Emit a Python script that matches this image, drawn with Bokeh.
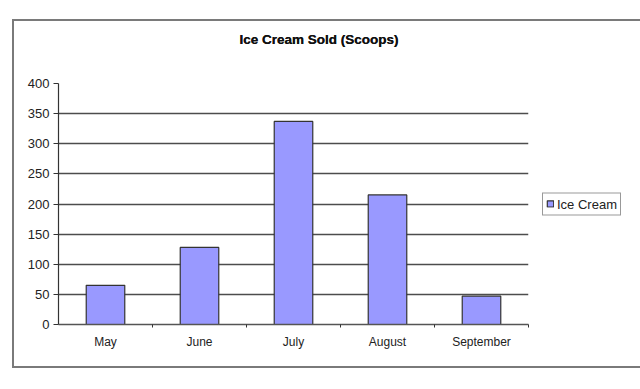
from bokeh.plotting import figure
from bokeh.models import (Range1d, FixedTicker, Legend, LegendItem, ColumnDataSource, Title)
from bokeh.embed import file_html
from bokeh.resources import INLINE

# ---- data ----
months = ["May", "June", "July", "August", "September"]
scoops = [65, 128, 337, 215, 47]
y_ticks = [0, 50, 100, 150, 200, 250, 300, 350, 400]
series_name = "Ice Cream"
title_text = "Ice Cream Sold (Scoops)"

FONT = "Liberation Sans"
centers = [i + 0.5 for i in range(len(months))]
bounds = [i + 1 for i in range(len(months))]

src = ColumnDataSource(dict(x=centers, top=scoops, month=months))

p = figure(frame_width=470, frame_height=241, output_backend="svg", toolbar_location=None,
           x_range=Range1d(0, len(months)), y_range=Range1d(y_ticks[0], y_ticks[-1]),
           min_border_left=44, min_border_right=95, min_border_top=62,
           min_border_bottom=42, margin=(21, 0, 0, 14),
           styles={"outline": "2px solid #7a7a7a"})
p.outline_line_color = None
p.background_fill_color = "white"
p.border_fill_color = "white"

p.title.text = title_text
p.title.align = "left"
p.title.offset = 181
p.title.standoff = 10
p.title.text_font = FONT
p.title.text_font_size = "13.5px"
p.title.text_font_style = "bold"
p.title.text_color = "#111111"

# spacer between title and plot area
spacer = Title(text=" ", text_font_size="1px", standoff=2)
p.above = [p.title, spacer]

bars = p.vbar(x="x", top="top", bottom=0, width=0.41, source=src,
              fill_color="#9999FF", line_color="#333333", line_width=1.2)

# grid
p.xgrid.visible = False
p.ygrid.ticker = FixedTicker(ticks=y_ticks[1:-1])
p.ygrid.grid_line_color = "#4d4d4d"
p.ygrid.grid_line_width = 1.5

# y axis
ya = p.yaxis[0]
ya.ticker = FixedTicker(ticks=y_ticks)
ya.minor_tick_line_color = None
ya.major_tick_in = 0
ya.major_tick_out = 5
ya.major_tick_line_color = "#333333"
ya.axis_line_color = "#333333"
ya.axis_line_width = 1.2
ya.major_label_text_font = FONT
ya.major_label_text_font_size = "13px"
ya.major_label_text_color = "#222222"
ya.major_label_standoff = 4

# x axis
xa = p.xaxis[0]
xa.ticker = FixedTicker(ticks=centers, minor_ticks=bounds)
xa.major_label_overrides = {c: m for c, m in zip(centers, months)}
xa.major_tick_line_color = None
xa.major_tick_in = 0
xa.major_tick_out = 0
xa.minor_tick_in = 0
xa.minor_tick_out = 3
xa.minor_tick_line_color = "#333333"
xa.axis_line_color = "#555555"
xa.axis_line_width = 1.5
xa.major_label_text_font = FONT
xa.major_label_text_font_size = "12px"
xa.major_label_text_color = "#222222"
xa.major_label_standoff = 7

# legend
legend = Legend(items=[LegendItem(label=series_name, renderers=[bars])],
                location="center_left", margin=14, padding=3, spacing=0,
                glyph_width=8, glyph_height=8, label_standoff=3,
                label_height=14, label_text_font=FONT, label_text_font_size="13px",
                label_text_color="#222222",
                border_line_color="#333333", border_line_width=1,
                background_fill_color="white")
p.add_layout(legend, "right")

open("out.html", "w").write(file_html(p, INLINE))
